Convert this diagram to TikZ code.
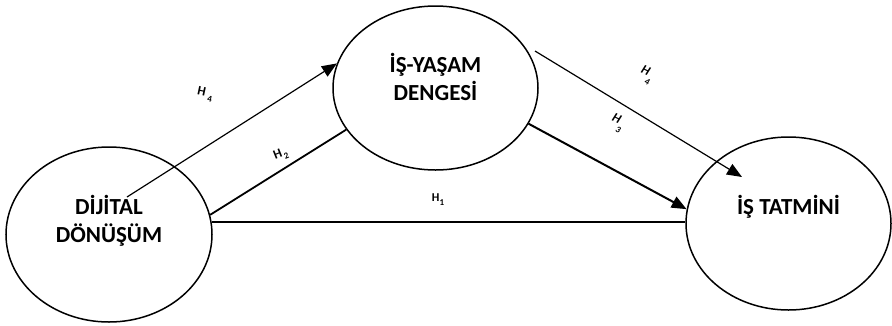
\documentclass[tikz,border=0pt]{standalone}
\usepackage{fontspec}
\setmainfont{Carlito}
\usetikzlibrary{shapes.geometric,arrows.meta}
\newcommand{\subfs}{\fontsize{9}{10}\selectfont}
\begin{document}
\begin{tikzpicture}[x=1pt,y=-1pt,
  oval/.style={ellipse,draw,line width=1.5pt,inner sep=0pt},
  ovaltext/.style={align=center,font=\fontsize{23}{28}\selectfont\bfseries,inner sep=0pt},
  hlab/.style={font=\fontsize{13}{14}\selectfont\bfseries,inner sep=0pt},
  arr/.style={-{Triangle[length=15pt,width=12pt]}},
  thin line/.style={line width=1.2pt},
  thick line/.style={line width=2pt},
]
\useasboundingbox (0,0) rectangle (892,325);
% ellipses
\node[oval,minimum width=206pt,minimum height=175pt] (dd) at (109,234.5) {};
\node[oval,minimum width=205pt,minimum height=164pt] (wl) at (435.5,88) {};
\node[oval,minimum width=205pt,minimum height=173pt] (it) at (788.5,223.5) {};
% texts
\node[ovaltext] (ddt) at (109,221) {DİJİTAL\\DÖNÜŞÜM};
\node[ovaltext] (wlt) at (435.5,77) {İŞ-YAŞAM\\DENGESİ};
\node[ovaltext] (itt) at (788.5,207) {İŞ TATMİNİ};
% free ends
\coordinate (h4ls) at (127,197);
\coordinate (h4rs) at (535,51);
\coordinate (h4re) at (742,177);
% connectors
\draw[thin line,arr] (h4ls) -- (wl.166);
\draw[line width=1.8pt] (dd.11) -- (wl.205);
\draw[thick line] (dd.7) -- (dd.7 -| it.west);
\draw[thick line,arr] (wl.-21) -- (it.172);
\draw[thin line,arr] (h4rs) -- (h4re);
% labels
\node[hlab,rotate=-12] (h4a) at (205,94) {H\hspace{3pt}\raisebox{-5pt}{\subfs 4}};
\node[hlab,rotate=22] (h2) at (281,155) {H\hspace{1pt}\raisebox{-4pt}{\subfs 2}};
\node[hlab,font=\fontsize{12}{13}\selectfont\bfseries] (h1) at (438,200) {H\raisebox{-4pt}{\subfs 1}};
\node[hlab,rotate=-25] (h4b) at (646,75) {\itshape H\raisebox{-9pt}{\subfs 4}};
\node[hlab,rotate=-25] (h3) at (617,123) {\itshape H\raisebox{-9pt}{\subfs 3}};
\end{tikzpicture}
\end{document}
